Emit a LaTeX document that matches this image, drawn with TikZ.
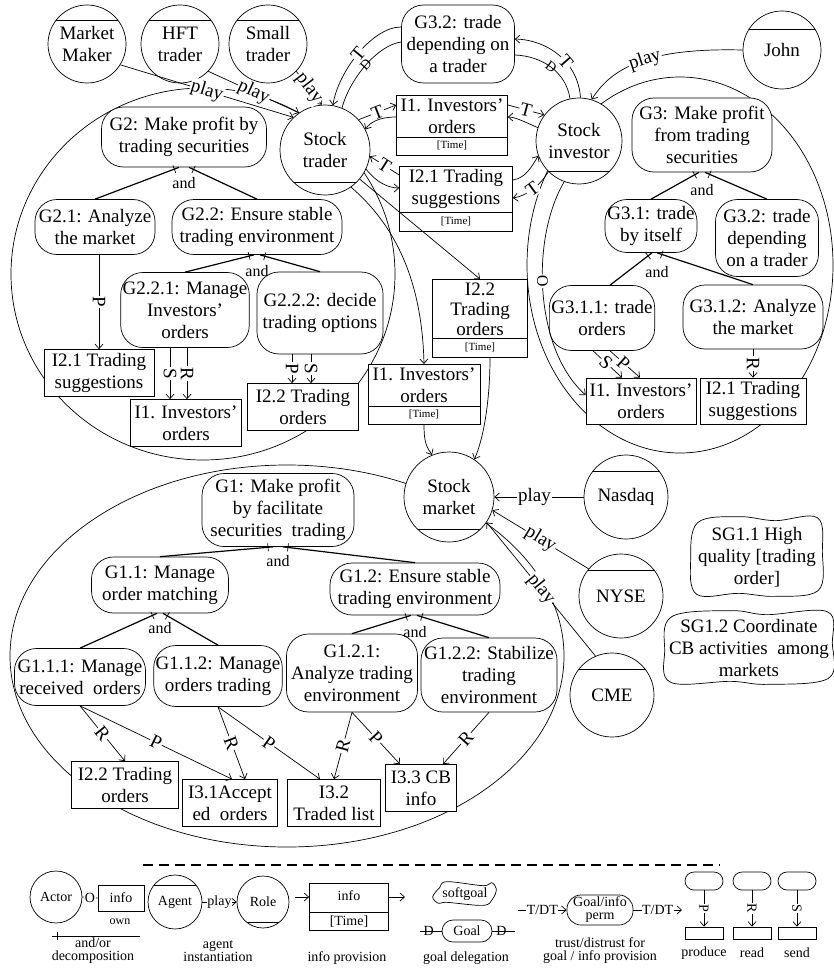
\documentclass[tikz,border=0pt]{standalone}
\usepackage{fontspec}
\setmainfont{Liberation Serif}
\usetikzlibrary{positioning,calc,shapes.multipart,decorations.markings,arrows.meta}
\newcommand\legfont{\fontsize{14}{13}\selectfont}
\newcommand\timefont{\fontsize{11}{12}\selectfont}
\newcommand\andfont{\fontsize{16}{16}\selectfont}
\newcommand\sgoutline[1]{\draw plot[smooth cycle, tension=.6] coordinates {($(#1.north west)+(5,5)$) ($(#1.north)+(-18,-1)$) ($(#1.north)+(18,3)$) ($(#1.north east)+(-4,0)$) ($(#1.east)+(1,-5)$) ($(#1.south east)+(-3,-6)$) ($(#1.south)+(18,0)$) ($(#1.south)+(-18,-3)$) ($(#1.south west)+(4,-2)$) ($(#1.west)+(-2,3)$)};}

\begin{document}
\begin{tikzpicture}[x=1pt, y=-1pt, line width=0.7pt, font=\fontsize{19}{22}\selectfont,
  >={Straight Barb[length=4.5pt,width=8pt]},
  agent/.style={circle, draw, fill=white, align=center, inner sep=0pt,
    path picture={\draw ([yshift=-#1]path picture bounding box.north west) -- ([yshift=-#1]path picture bounding box.north east);}},
  agent/.default=15pt,
  role/.style={circle, draw, fill=white, align=center, inner sep=0pt,
    path picture={\draw ([yshift=#1]path picture bounding box.south west) -- ([yshift=#1]path picture bounding box.south east);}},
  role/.default=13pt,
  goal/.style={rectangle, rounded corners=22pt, draw, fill=white, align=center, inner sep=2pt},
  info/.style={rectangle, draw, fill=white, align=center, inner sep=2pt},
  timed/.style={rectangle split, rectangle split parts=2, draw, fill=white, align=center, inner sep=3pt, anchor=north},
  softgoal/.style={align=center, inner sep=2pt},
  decomp/.style={line width=1.2pt, postaction={decorate},
    decoration={markings, mark=at position -5pt with {\draw[line width=.7pt] (0,-4pt) -- (0,4pt);}}},
  lbl/.style={sloped, fill=white, inner sep=1pt},
  andlbl/.style={font=\andfont, inner sep=0pt},
  legend/.style={font=\legfont, align=center, inner sep=1pt}]
\useasboundingbox (0,0) rectangle (833,971);

\draw (203,274) ellipse (192 and 186);
\draw (680,265) ellipse (153 and 188);
\draw (287,656) ellipse (277 and 191);

\node[agent, minimum size=78] (MM) at (87,44) {Market\\Maker};
\node[agent, minimum size=78] (HFT) at (180,44) {HFT\\trader};
\node[agent, minimum size=78] (SMT) at (268,44) {Small\\trader};
\node[agent=18pt, minimum size=78] (JOHN) at (782,50) {John};
\node[role, minimum size=90] (TRD) at (325,150) {Stock\\trader};
\node[role, minimum size=86] (INV) at (579,141) {Stock\\investor};
\node[role, minimum size=90] (MKT) at (449,497) {Stock\\market};
\node[agent=16pt, minimum size=84] (NAS) at (626,497) {Nasdaq};
\node[agent=16pt, minimum size=84] (NYSE) at (621,596) {NYSE};
\node[agent=16pt, minimum size=84] (CME) at (612,695) {CME};

\node[goal, minimum width=113, minimum height=78] (G32T) at (458,44) {G3.2: trade\\depending on\\a trader};
\node[timed, minimum width=111] (I1T) at (452,95) {I1. Investors'\\orders\nodepart{two}\timefont\strut[Time]};
\node[timed, minimum width=113] (I21T) at (456,166) {I2.1 Trading\\suggestions\nodepart{two}\timefont\strut[Time]};
\node[timed, minimum width=95, font=\fontsize{19}{20}\selectfont] (I22M) at (480,279) {I2.2\\Trading\\orders\nodepart{two}\timefont\strut[Time]};
\node[timed, minimum width=112] (I1M) at (424,364) {I1. Investors'\\orders\nodepart{two}\timefont\strut[Time]};

\node[goal, minimum width=165, minimum height=60] (G2) at (184,137) {G2: Make profit by\\trading securities};
\node[goal, minimum width=120, minimum height=55] (G21) at (95,227) {G2.1: Analyze\\the market};
\node[goal, minimum width=170, minimum height=55] (G22) at (257,227) {G2.2: Ensure stable\\trading environment};
\node[goal, minimum width=127, minimum height=75] (G221) at (185,310) {G2.2.1: Manage\\Investors'\\orders};
\node[goal, minimum width=126, minimum height=82] (G222) at (320,313) {G2.2.2: decide\\trading options};
\node[info, minimum width=110, minimum height=47] (I21A) at (99,373) {I2.1 Trading\\suggestions};
\node[info, minimum width=111, minimum height=47] (I1A) at (186,423) {I1. Investors'\\orders};
\node[info, minimum width=111, minimum height=47] (I22A) at (303,407) {I2.2 Trading\\orders};

\node[goal, minimum width=140, minimum height=74] (G3) at (702,135) {G3: Make profit\\from trading\\securities};
\node[goal, minimum width=92, minimum height=53] (G31) at (651,226) {G3.1: trade\\by itself};
\node[goal, minimum width=103, minimum height=77] (G32) at (767,238) {G3.2: trade\\depending\\on a trader};
\node[goal, minimum width=98, minimum height=65] (G311) at (602,318) {G3.1.1: trade\\orders};
\node[goal, minimum width=140, minimum height=64] (G312) at (753,317) {G3.1.2: Analyze\\the market};
\node[info, minimum width=110, minimum height=46] (I1R) at (641,401) {I1. Investors'\\orders};
\node[info, minimum width=106, minimum height=46] (I21R) at (753,401) {I2.1 Trading\\suggestions};

\node[goal, minimum width=152, minimum height=73] (G1) at (278,510) {G1: Make profit\\by facilitate\\securities~~trading};
\node[goal, minimum width=137, minimum height=56] (G11) at (160,585) {G1.1: Manage\\order matching};
\node[goal, minimum width=170, minimum height=52] (G12) at (415,589) {G1.2: Ensure stable\\trading environment};
\node[goal, minimum width=131, minimum height=57] (G111) at (80,677) {G1.1.1: Manage\\received~~orders};
\node[goal, minimum width=127, minimum height=61] (G112) at (218,676) {G1.1.2: Manage\\orders trading};
\node[goal, minimum width=131, minimum height=78] (G121) at (352,673) {G1.2.1:\\Analyze trading\\environment};
\node[goal, minimum width=136, minimum height=74] (G122) at (489,675) {G1.2.2: Stabilize\\trading\\environment};
\node[info, minimum width=107, minimum height=47] (I22B) at (125,785) {I2.2 Trading\\orders};
\node[info, minimum width=95, minimum height=47] (I31) at (230,803) {I3.1Accept\\ed~~orders};
\node[info, minimum width=93, minimum height=47] (I32) at (334,803) {I3.2\\Traded list};
\node[info, minimum width=71, minimum height=47] (I33) at (421,788) {I3.3 CB\\info};

\node[softgoal, minimum width=128, minimum height=78] (SG11) at (757,557) {SG1.1 High\\quality [trading\\order]};
\sgoutline{SG11}
\node[softgoal, minimum width=160, minimum height=72] (SG12) at (749,648) {SG1.2 Coordinate\\CB activities~~among\\markets};
\sgoutline{SG12}

\draw[->] (MM.-32) -- node[lbl]{play} (TRD.134);
\draw[->] (HFT.-44) -- node[lbl]{play} (TRD.125);
\draw[->] (SMT.-44) -- node[lbl]{play} (TRD.94);
\draw[->] (JOHN.west) .. controls (660,48) and (615,62) .. node[lbl]{play} (INV.73);
\draw[->] (NAS.west) -- node[lbl, pos=.55]{play} (MKT.east);
\draw[->] (NYSE.140) -- node[lbl]{play} (MKT.-17);
\draw[->] (CME.113) -- node[lbl]{play} (MKT.-34);

\draw[->] ([yshift=17pt]G32T.west) .. controls (372,27) and (338,72) .. node[lbl]{T} (TRD.80);
\draw ([yshift=2pt]G32T.west) .. controls (378,45) and (350,78) .. node[sloped, inner sep=0pt, font=\legfont]{D} (TRD.68);
\draw[->] (INV.88) .. controls (578,62) and (548,40) .. node[lbl, pos=.4]{T} ([yshift=5pt]G32T.east);
\draw (INV.102) .. controls (566,72) and (542,56) .. node[sloped, inner sep=0pt, font=\legfont]{D} ([yshift=-11pt]G32T.east);

\draw[->] (TRD.42) -- node[lbl]{T} ([yshift=-10pt]I1T.north west);
\draw[->] ([yshift=-22pt]I1T.north west) .. controls (380,117) and (370,122) .. (TRD.27);
\draw[->] ([yshift=-10pt]I1T.north east) -- node[lbl]{T} (INV.143);
\draw[->] (INV.162) .. controls (525,122) and (515,117) .. ([yshift=-22pt]I1T.north east);
\draw[->] ([yshift=-9pt]I21T.north west) -- node[lbl]{T} (TRD.-8);
\draw[->] (TRD.-25) .. controls (376,182) and (388,188) .. ([yshift=-22pt]I21T.north west);
\draw[->] ([yshift=-14pt]I21T.north east) .. controls (526,178) and (532,166) .. (INV.200);
\draw[->] (INV.225) .. controls (540,186) and (526,196) .. node[lbl]{T} ([yshift=-32pt]I21T.north east);

\draw[->] (TRD.-40) -- (I22M.north);
\draw[->] (TRD.-55) .. controls (395,225) and (422,280) .. (I1M.north);
\draw[->] (I1M.south) .. controls (424,446) and (428,448) .. (MKT.112);
\draw[->] ([xshift=10pt]I22M.south) .. controls (490,395) and (485,435) .. (MKT.56);
\draw[->] (INV.-110) .. controls (530,240) and (535,350) .. node[lbl, pos=.45, font=\andfont]{O} ([yshift=6pt]I1R.west);

\draw[decomp] (G21.north) -- ([xshift=-5pt]G2.south);
\draw[decomp] (G22.north) -- ([xshift=5pt]G2.south);
\node[andlbl, below=10pt of G2] (A2) {and};
\draw[decomp] (G221.north) -- ([xshift=-3pt]G22.south);
\draw[decomp] (G222.north) -- ([xshift=3pt]G22.south);
\node[andlbl, below=10pt of G22] (A22) {and};
\draw[decomp] (G31.north) -- ([xshift=-3pt]G3.south);
\draw[decomp] (G32.north) -- ([xshift=3pt]G3.south);
\node[andlbl, below=12pt of G3] (A3) {and};
\draw[decomp] ([xshift=8pt]G311.north) -- ([xshift=1pt]G31.south);
\draw[decomp] (G312.north) -- ([xshift=6pt]G31.south);
\node[andlbl, below=13pt of G31, xshift=6pt] (A31) {and};
\draw[decomp] (G11.north) -- ([xshift=-5pt]G1.south);
\draw[decomp] (G12.north) -- ([xshift=5pt]G1.south);
\node[andlbl, below=8pt of G1] (A1) {and};
\draw[decomp] (G111.north) -- ([xshift=-3pt]G11.south);
\draw[decomp] (G112.north) -- ([xshift=3pt]G11.south);
\node[andlbl, below=9pt of G11] (A11) {and};
\draw[decomp] (G121.north) -- ([xshift=-4pt]G12.south);
\draw[decomp] (G122.north) -- ([xshift=2pt]G12.south);
\node[andlbl, below=11pt of G12] (A12) {and};

\draw[->] ([xshift=4pt]G21.south) -- node[lbl]{P} (I21A.north);
\draw[->] ([xshift=-15pt]G221.south) -- node[lbl]{S} ([xshift=-16pt]I1A.north);
\draw[->] ([xshift=2pt]G221.south) -- node[lbl]{R} ([xshift=1pt]I1A.north);
\draw[->] ([xshift=-28pt]G222.south) -- node[lbl]{P} ([xshift=-11pt]I22A.north);
\draw[->] ([xshift=-9pt]G222.south) -- node[lbl]{S} ([xshift=8pt]I22A.north);
\draw[->] ([xshift=-9pt]G311.south) -- node[lbl, pos=.45]{S} ([xshift=-19pt]I1R.north);
\draw[->] ([xshift=8pt]G311.south) -- node[lbl, pos=.45]{P} ([xshift=-1pt]I1R.north);
\draw[->] (G312.south) -- node[lbl]{R} (I21R.north);
\draw[->] (G111.south) -- node[lbl]{R} (I22B.north);
\draw[->] (G111.south) -- node[lbl]{P} ([xshift=2pt]I31.north);
\draw[->] (G112.south) -- node[lbl]{R} ([xshift=15pt]I31.north);
\draw[->] (G112.south) -- node[lbl]{P} ([xshift=-14pt]I32.north);
\draw[->] (G121.south) -- node[lbl]{R} (I32.north);
\draw[->] (G121.south) -- node[lbl]{P} ([xshift=-21pt]I33.north);
\draw[->] (G122.south) -- node[lbl]{R} ([xshift=22pt]I33.north);

\draw[dash pattern=on 10pt off 6pt, line width=1.5pt] (143,865) -- (720,865);
\node[circle, draw, minimum size=52, inner sep=0pt, font=\legfont] (ACT) at (56,897) {Actor};
\node[info, minimum width=46, minimum height=26, font=\legfont] (OWNI) at (121,898) {info};
\draw (ACT.east) -- node[fill=white, inner sep=.5pt, font=\legfont]{O} (OWNI.west);
\node[legend, font=\fontsize{12}{12}\selectfont] (OWNT) at (120,922) {own};
\coordinate (DCA) at (52,936);
\coordinate (DCB) at (140,936);
\draw[decomp, line width=1pt] (DCB) -- (DCA);
\node[legend] (DCT) at (93,951) {and/or\\decomposition};
\node[agent=10pt, minimum size=54, font=\legfont] (AGT) at (175,902) {Agent};
\node[role=6pt, minimum size=52, font=\legfont] (ROL) at (263,902) {Role};
\draw[->] (AGT.east) -- node[fill=white, inner sep=.5pt, font=\legfont]{play} (ROL.west);
\node[legend] (AIT) at (218,951) {agent\\instantiation};
\node[timed, minimum width=79, font=\legfont] (PRV) at (349,883) {\rule[-8pt]{0pt}{22pt}info\nodepart{two}[Time]};
\coordinate (PIN) at (295,897);
\coordinate (POUT) at (405,897);
\draw[->] (PIN) -- ([yshift=-14pt]PRV.north west);
\draw[->] ([yshift=-14pt]PRV.north east) -- (POUT);
\node[legend] (IPT) at (347,958) {info provision};
\node[softgoal, minimum width=60, minimum height=22, font=\legfont] (SGL) at (465,894) {softgoal};
\sgoutline{SGL}
\node[goal, rounded corners=11pt, minimum width=50, minimum height=22, font=\legfont] (GL) at (467,931) {Goal};
\coordinate (GDL) at (420,931);
\coordinate (GDR) at (515,931);
\draw (GDL) -- node[pos=.4, inner sep=0pt, font=\legfont]{D} (GL.west);
\draw (GL.east) -- node[pos=.4, inner sep=0pt, font=\legfont]{D} (GDR);
\node[legend] (GDT) at (466,958) {goal delegation};
\node[goal, rounded corners=14pt, minimum width=66, minimum height=30, font=\legfont] (PERM) at (600,910) {Goal/info\\perm};
\coordinate (TDA) at (518,910);
\coordinate (TDB) at (682,910);
\draw[->] (TDA) -- node[fill=white, inner sep=.5pt, font=\legfont]{T/DT} (PERM.west);
\draw[->] (PERM.east) -- node[fill=white, inner sep=.5pt, font=\legfont]{T/DT} (TDB);
\node[legend] (TDT) at (600,951) {trust/distrust for\\goal / info provision};
\node[goal, rounded corners=9pt, minimum width=38, minimum height=18] (PR1) at (704,881) {};
\node[info, minimum width=38, minimum height=12, inner sep=0pt] (PB1) at (704,933) {};
\draw[->] (PR1.south) -- node[lbl, font=\legfont]{P} (PB1.north);
\node[goal, rounded corners=9pt, minimum width=38, minimum height=18] (PR2) at (752,881) {};
\node[info, minimum width=38, minimum height=12, inner sep=0pt] (PB2) at (752,933) {};
\draw[->] (PR2.south) -- node[lbl, font=\legfont]{R} (PB2.north);
\node[goal, rounded corners=9pt, minimum width=38, minimum height=18] (PR3) at (797,881) {};
\node[info, minimum width=38, minimum height=12, inner sep=0pt] (PB3) at (797,933) {};
\draw[->] (PR3.south) -- node[lbl, font=\legfont]{S} (PB3.north);
\node[legend] (PRT) at (704,953) {produce};
\node[legend] (RDT) at (752,953) {read};
\node[legend] (SNT) at (797,953) {send};
\end{tikzpicture}
\end{document}
